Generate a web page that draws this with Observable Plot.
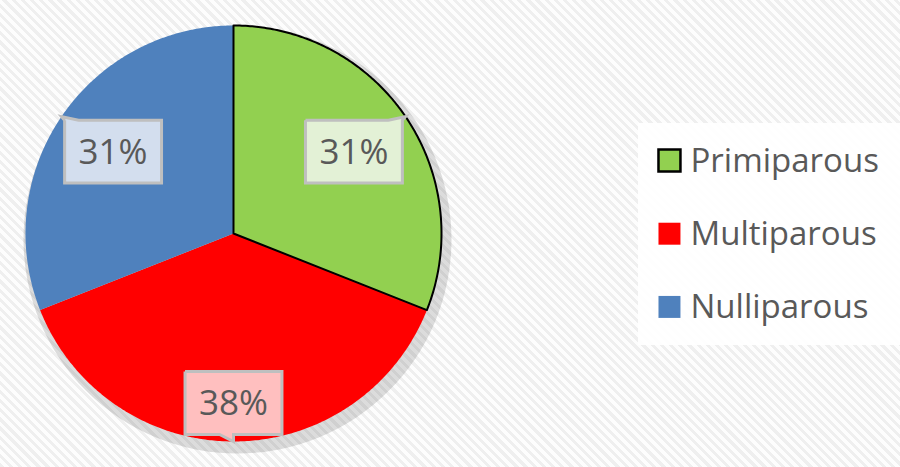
<!DOCTYPE html>
<html><head><meta charset="utf-8">
<script src="https://cdn.jsdelivr.net/npm/d3@7"></script>
<script src="https://cdn.jsdelivr.net/npm/@observablehq/plot@0.6"></script>
<style>
html,body{margin:0;padding:0;}
body{width:900px;height:467px;overflow:hidden;background:#fff repeating-linear-gradient(45deg,#efefef 0 3px,#fdfdfd 3px 6.5px);font-family:"Open Sans",sans-serif;}
#chart{position:relative;width:900px;height:467px;}
#legendbg{position:absolute;left:638px;top:123px;width:262px;height:222px;background:rgba(255,255,255,0.9);}
#chart svg{position:absolute;left:0;top:0;}
</style></head><body><div id="chart"><div id="legendbg"></div></div>
<script>
const categories = ["Primiparous", "Multiparous", "Nulliparous"];
const values = [31, 38, 31];
const labels = ["31%", "38%", "31%"];
const colors = ["#92D050", "#FF0000", "#4F81BD"];
const labelFills = ["#E3F1D6", "#FFBFBF", "#D3DEEE"];
const labelRadius = [0.70, 0.815, 0.70];

const arcs = d3.pie().sort(null).value(d => d)(values);
const pt = (a, r) => [r * Math.sin(a), r * Math.cos(a)];

const slicePolys = arcs.map((a, i) => {
  const n = Math.max(2, Math.ceil((a.endAngle - a.startAngle) / 0.01));
  const pts = [[0, 0]];
  for (let k = 0; k <= n; k++) pts.push(pt(a.startAngle + (a.endAngle - a.startAngle) * k / n, 1));
  pts.push([0, 0]);
  return pts.map(([x, y]) => ({category: categories[i], x, y}));
});

const BW = 0.233, BH = 0.151, TW = 0.067;
const callouts = arcs.map((a, i) => {
  const mid = (a.startAngle + a.endAngle) / 2;
  const [cx, cy] = pt(mid, labelRadius[i]);
  const [tx, ty] = pt(mid, 1);
  const L = cx - BW, R = cx + BW, T = cy + BH, B = cy - BH;
  let b0, b1;
  if (tx > R - TW) { b0 = R - TW; b1 = R; }
  else if (tx < L + TW) { b0 = L; b1 = L + TW; }
  else { b0 = tx - TW; b1 = tx; }
  let ring;
  if (ty > T) ring = [[L, T], [b0, T], [tx, ty], [b1, T], [R, T], [R, B], [L, B], [L, T]];
  else ring = [[L, T], [R, T], [R, B], [b1, B], [tx, ty], [b0, B], [L, B], [L, T]];
  return {cx, cy, label: labels[i], fill: labelFills[i], ring: ring.map(([x, y]) => ({x, y}))};
});

const legend = categories.map((c, i) => ({category: c, x: 2.096, y: 0.351 - 0.352 * i}));

const plot = Plot.plot({
  width: 900,
  height: 467,
  style: "background: transparent; overflow: visible;",
  x: {domain: [-1, 1], range: [25, 441], axis: null},
  y: {domain: [-1, 1], range: [441, 25], axis: null},
  color: {domain: categories, range: colors},
  marks: [
    Plot.dot([{x: 0, y: 0}], {x: "x", y: "y", r: 214, dx: 4, dy: 6, fill: "#000", fillOpacity: 0.13, stroke: "none", ariaLabel: "shadow"}),
    ...slicePolys.map(poly => Plot.line(poly, {x: "x", y: "y", fill: "category", stroke: "none", curve: "linear"})),
    Plot.line(slicePolys[0], {x: "x", y: "y", stroke: "#000", strokeWidth: 2, fill: "none", strokeLinejoin: "round"}),
    ...callouts.map(c => Plot.line(c.ring, {x: "x", y: "y", fill: c.fill, stroke: "#BFBFBF", strokeWidth: 3, strokeLinejoin: "miter", strokeMiterlimit: 10, strokeLinecap: "butt"})),
    Plot.text(callouts, {x: "cx", y: "cy", text: "label", fontSize: 35, fill: "#595959", fontFamily: "Open Sans", textAnchor: "middle", dy: 1}),
    Plot.dot(legend, {x: "x", y: "y", symbol: "square", r: 12.4, fill: "category", stroke: "none"}),
    Plot.dot(legend.slice(0, 1), {x: "x", y: "y", symbol: "square", r: 12.4, fill: "none", stroke: "#000", strokeWidth: 2.5}),
    Plot.text(legend, {x: d => d.x + 0.101, y: "y", text: "category", fontSize: 33, fill: "#595959", fontFamily: "Open Sans", textAnchor: "start", dy: 1})
  ]
});

const svg = d3.select(plot);
const defs = svg.insert("defs", ":first-child");
defs.append("filter").attr("id", "softshadow").attr("x", "-30%").attr("y", "-30%").attr("width", "160%").attr("height", "160%")
  .append("feGaussianBlur").attr("stdDeviation", 14);
svg.select('g[aria-label="shadow"]').attr("filter", "url(#softshadow)");
document.getElementById("chart").appendChild(plot);
</script>
</body></html>
